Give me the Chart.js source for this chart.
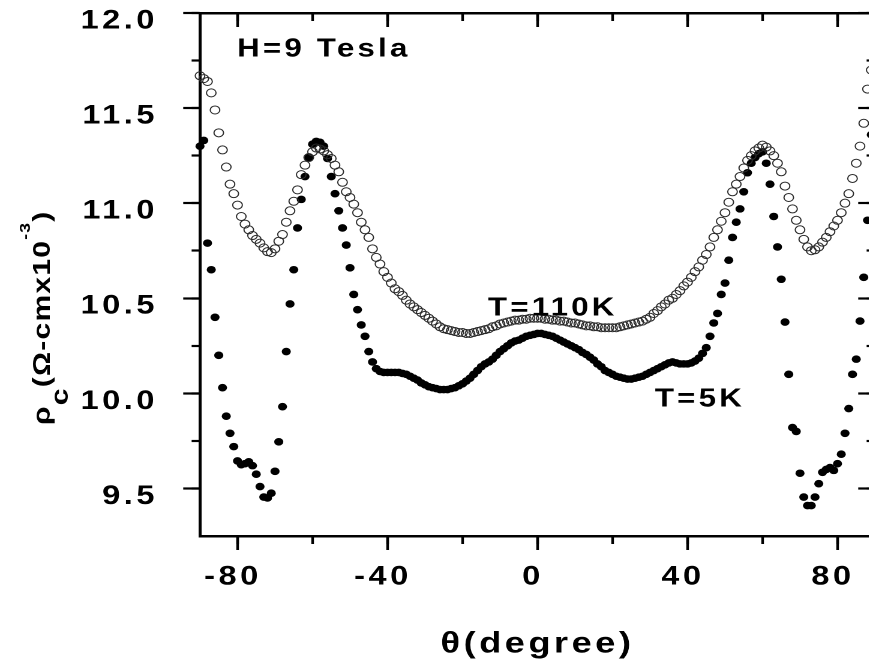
<!DOCTYPE html>
<html>
<head>
<meta charset="utf-8">
<title>rho_c vs theta</title>
<script src="https://cdn.jsdelivr.net/npm/chart.js@4.4.1/dist/chart.umd.min.js"></script>
<style>
  html, body { margin: 0; padding: 0; background: #fff; overflow: hidden; }
  /* the source figure is stretched sideways, so the whole canvas is too */
  #wrap { position: absolute; left: 0; top: 0; width: 735px; height: 664px; transform: scaleX(1.2); transform-origin: 0 0; }
</style>
</head>
<body>
<div id="wrap"><canvas id="chart" width="735" height="664" style="width:735px;height:664px"></canvas></div>
<script>
// measured angles (degree)
const angles = [
  -90, -89, -88, -87, -86, -85, -84, -83, -82, -81,
  -80, -79, -78, -77, -76, -75, -74, -73, -72, -71,
  -70, -69, -68, -67, -66, -65, -64, -63, -62, -61,
  -60, -59, -58, -57, -56, -55, -54, -53, -52, -51,
  -50, -49, -48, -47, -46, -45, -44, -43, -42, -41,
  -40, -39, -38, -37, -36, -35, -34, -33, -32, -31,
  -30, -29, -28, -27, -26, -25, -24, -23, -22, -21,
  -20, -19, -18, -17, -16, -15, -14, -13, -12, -11,
  -10, -9, -8, -7, -6, -5, -4, -3, -2, -1,
  0, 1, 2, 3, 4, 5, 6, 7, 8, 9,
  10, 11, 12, 13, 14, 15, 16, 17, 18, 19,
  20, 21, 22, 23, 24, 25, 26, 27, 28, 29,
  30, 31, 32, 33, 34, 35, 36, 37, 38, 39,
  40, 41, 42, 43, 44, 45, 46, 47, 48, 49,
  50, 51, 52, 53, 54, 55, 56, 57, 58, 59,
  60, 61, 62, 63, 64, 65, 66, 67, 68, 69,
  70, 71, 72, 73, 74, 75, 76, 77, 78, 79,
  80, 81, 82, 83, 84, 85, 86, 87, 88, 89
];

// T = 110 K (open circles), rho_c x10^-3 Ohm-cm
const rho110K = [
  11.67, 11.655, 11.64, 11.58, 11.49, 11.37, 11.28, 11.19, 11.10, 11.05,
  10.99, 10.93, 10.89, 10.86, 10.83, 10.81, 10.79, 10.765, 10.745, 10.74,
  10.76, 10.80, 10.835, 10.90, 10.96, 11.01, 11.07, 11.15, 11.20, 11.24,
  11.27, 11.29, 11.285, 11.275, 11.255, 11.235, 11.20, 11.165, 11.11, 11.06,
  11.03, 10.995, 10.95, 10.90, 10.86, 10.82, 10.76, 10.715, 10.68, 10.64,
  10.61, 10.58, 10.55, 10.535, 10.515, 10.49, 10.47, 10.455, 10.44, 10.425,
  10.41, 10.395, 10.38, 10.365, 10.35, 10.34, 10.335, 10.33, 10.325, 10.32,
  10.32, 10.315, 10.315, 10.32, 10.325, 10.33, 10.335, 10.34, 10.35, 10.355,
  10.365, 10.37, 10.375, 10.38, 10.385, 10.385, 10.39, 10.39, 10.395, 10.395,
  10.395, 10.395, 10.39, 10.39, 10.385, 10.385, 10.38, 10.38, 10.375, 10.37,
  10.37, 10.365, 10.36, 10.355, 10.355, 10.35, 10.35, 10.345, 10.345, 10.345,
  10.345, 10.345, 10.35, 10.355, 10.36, 10.365, 10.37, 10.375, 10.38, 10.39,
  10.40, 10.42, 10.435, 10.455, 10.47, 10.49, 10.50, 10.52, 10.54, 10.565,
  10.585, 10.61, 10.64, 10.665, 10.70, 10.73, 10.77, 10.82, 10.86, 10.905,
  10.95, 11.005, 11.06, 11.10, 11.14, 11.185, 11.225, 11.25, 11.275, 11.29,
  11.305, 11.295, 11.275, 11.25, 11.21, 11.165, 11.09, 11.03, 10.97, 10.91,
  10.86, 10.81, 10.77, 10.75, 10.755, 10.77, 10.795, 10.82, 10.85, 10.88,
  10.91, 10.95, 11.00, 11.05, 11.13, 11.21, 11.30, 11.42, 11.60, 11.70
];

// T = 5 K (filled circles)
const rho5K = [
  11.30, 11.33, 10.79, 10.65, 10.40, 10.20, 10.03, 9.88, 9.79, 9.72,
  9.645, 9.625, 9.63, 9.64, 9.62, 9.575, 9.51, 9.455, 9.45, 9.475,
  9.59, 9.745, 9.93, 10.22, 10.47, 10.65, 10.87, 11.02, 11.14, 11.24,
  11.31, 11.325, 11.32, 11.30, 11.235, 11.14, 11.05, 10.96, 10.87, 10.78,
  10.66, 10.52, 10.44, 10.36, 10.30, 10.22, 10.165, 10.13, 10.115, 10.11,
  10.11, 10.11, 10.11, 10.11, 10.105, 10.10, 10.09, 10.08, 10.07, 10.055,
  10.045, 10.035, 10.03, 10.025, 10.02, 10.02, 10.02, 10.025, 10.03, 10.04,
  10.05, 10.065, 10.08, 10.10, 10.12, 10.14, 10.155, 10.165, 10.18, 10.20,
  10.22, 10.235, 10.25, 10.265, 10.275, 10.28, 10.29, 10.30, 10.305, 10.31,
  10.315, 10.315, 10.31, 10.305, 10.30, 10.29, 10.28, 10.27, 10.26, 10.25,
  10.24, 10.23, 10.215, 10.205, 10.19, 10.175, 10.155, 10.14, 10.12, 10.11,
  10.10, 10.09, 10.085, 10.08, 10.075, 10.075, 10.08, 10.085, 10.09, 10.10,
  10.11, 10.12, 10.13, 10.14, 10.15, 10.16, 10.165, 10.16, 10.155, 10.155,
  10.155, 10.16, 10.17, 10.185, 10.21, 10.24, 10.30, 10.37, 10.42, 10.52,
  10.58, 10.70, 10.82, 10.90, 10.97, 11.06, 11.16, 11.21, 11.24, 11.26,
  11.27, 11.21, 11.10, 10.93, 10.77, 10.60, 10.375, 10.10, 9.82, 9.80,
  9.58, 9.455, 9.41, 9.41, 9.455, 9.525, 9.585, 9.60, 9.61, 9.595,
  9.63, 9.68, 9.79, 9.92, 10.10, 10.18, 10.38, 10.61, 10.91, 11.36
];

const xMajorTicks = [-80, -40, 0, 40, 80];
const xMinorTicks = [-80, -60, -40, -20, 0, 20, 40, 60, 80];
const yMajorTicks = [9.5, 10.0, 10.5, 11.0, 11.5, 12.0];
const yMinorTicks = [9.5, 9.75, 10.0, 10.25, 10.5, 10.75, 11.0, 11.25, 11.5, 11.75, 12.0];

// text written inside the plot, anchored at (theta, rho) of its left baseline
const noteTexts = ["H=9 Tesla", "T=110K", "T=5K"];
const noteAnchors = [[-80.1, 11.77], [-13.2, 10.41], [31.3, 9.93]];

// y title pieces: text, font size, baseline shift (sub/superscript)
const yTitleParts = [
  { text: "ρ", size: 24, dy: 0 },
  { text: "c", size: 24, dy: 18 },
  { text: "(Ω-cmx10", size: 24, dy: 0 },
  { text: "-3", size: 14, dy: -20 },
  { text: ")", size: 24, dy: 0 }
];

const FONT = "'Liberation Sans', Arial, Helvetica, sans-serif";
const W = 735, H = 664;
const STRETCH = 1.2;
const AREA = { left: 200 / STRETCH, right: 875 / STRETCH, top: 13, bottom: 536 };

function fixed(list) {
  return s => { s.ticks = list.map(v => ({ value: v })); };
}
function noPad(size, horizontal) {
  return s => {
    if (horizontal) s.height = size; else s.width = size;
    s.paddingTop = s.paddingBottom = s.paddingLeft = s.paddingRight = 0;
  };
}
// bare tick-only axis (minor ticks, and the inward ticks of the frame)
function tickAxis(position, isX, list, len, withBorder, weight) {
  return {
    type: "linear",
    position,
    weight,
    min: isX ? -90 : 9.25,
    max: isX ? 90 : 12.0,
    afterBuildTicks: fixed(list),
    afterFit: noPad(0, isX),
    grid: { drawOnChartArea: false, drawTicks: true, tickLength: len, tickWidth: 2.2, tickColor: "#000" },
    border: { display: withBorder, color: "#000", width: 2.5 },
    ticks: { display: false }
  };
}

const textPlugin = {
  id: "texts",
  beforeDraw(chart) { chart.ctx.letterSpacing = "3px"; },
  afterDraw(chart) {
    const { ctx } = chart;
    const x = chart.scales.x, y = chart.scales.y;
    ctx.save();
    ctx.fillStyle = "#000";
    ctx.textAlign = "left";
    ctx.textBaseline = "alphabetic";
    ctx.font = "bold 26px " + FONT;
    ctx.letterSpacing = "2.7px";
    noteTexts.forEach((t, i) => {
      ctx.fillText(t, x.getPixelForValue(noteAnchors[i][0]), y.getPixelForValue(noteAnchors[i][1]));
    });

    // rotated y title with subscript / superscript; undo the sideways stretch
    // across the glyphs and widen them along the text like the source font
    ctx.translate(50 / STRETCH, 425);
    ctx.rotate(-Math.PI / 2);
    ctx.scale(1.25, 1 / STRETCH);
    ctx.letterSpacing = "1px";
    let cx = 0;
    yTitleParts.forEach(p => {
      ctx.font = "bold " + p.size + "px " + FONT;
      ctx.fillText(p.text, cx, p.dy);
      cx += ctx.measureText(p.text).width;
    });
    ctx.restore();
  }
};

const ctx = document.getElementById("chart").getContext("2d");
new Chart(ctx, {
  type: "scatter",
  data: {
    datasets: [
      {
        label: "T=110K",
        data: angles.map((a, i) => ({ x: a, y: rho110K[i] })),
        pointStyle: "circle",
        pointRadius: 4,
        pointBackgroundColor: "rgba(0,0,0,0)",
        pointBorderColor: "#2a2a2a",
        pointBorderWidth: 1,
        showLine: false,
        clip: false
      },
      {
        label: "T=5K",
        data: angles.map((a, i) => ({ x: a, y: rho5K[i] })),
        pointStyle: "circle",
        pointRadius: 3.8,
        pointBackgroundColor: "#000",
        pointBorderColor: "#000",
        pointBorderWidth: 0,
        showLine: false,
        clip: false
      }
    ]
  },
  options: {
    responsive: false,
    devicePixelRatio: 2,
    animation: false,
    events: [],
    layout: { padding: { left: 0, top: AREA.top, right: W - AREA.right, bottom: 0 } },
    plugins: { legend: { display: false }, tooltip: { enabled: false } },
    scales: {
      x: {
        type: "linear",
        position: "bottom",
        weight: 0,
        min: -90,
        max: 90,
        afterBuildTicks: fixed(xMajorTicks),
        afterFit: noPad(H - AREA.bottom, true),
        grid: { drawOnChartArea: false, drawTicks: true, tickLength: 14, tickWidth: 2.2, tickColor: "#000" },
        border: { display: true, color: "#000", width: 2.5 },
        ticks: {
          color: "#000",
          font: { family: FONT, size: 27, weight: "bold" },
          padding: 11,
          labelOffset: -3.8,
          autoSkip: false,
          maxRotation: 0,
          callback: v => String(v)
        },
        title: {
          display: true,
          text: "θ(degree)",
          color: "#000",
          font: { family: FONT, size: 30, weight: "bold" },
          padding: { top: 0, bottom: 2 }
        }
      },
      xMinor: tickAxis("bottom", true, xMinorTicks, 8, false, -1),
      xTop: tickAxis("top", true, xMajorTicks, -14, true, 0),
      xTopMinor: tickAxis("top", true, xMinorTicks, -8, false, -1),
      y: {
        type: "linear",
        position: "left",
        weight: 0,
        min: 9.25,
        max: 12.0,
        afterBuildTicks: fixed(yMajorTicks),
        afterFit: noPad(AREA.left, false),
        grid: { drawOnChartArea: false, drawTicks: true, tickLength: 14, tickWidth: 2.2, tickColor: "#000" },
        border: { display: true, color: "#000", width: 2.5 },
        ticks: {
          color: "#000",
          font: { family: FONT, size: 27, weight: "bold" },
          padding: 21,
          labelOffset: 8,
          autoSkip: false,
          callback: v => v.toFixed(1)
        },
        title: { display: false }
      },
      yMinor: tickAxis("left", false, yMinorTicks, 7, false, -1),
      yRight: tickAxis("right", false, yMajorTicks, -14, true, 0),
      yRightMinor: tickAxis("right", false, yMinorTicks, -7, false, -1)
    }
  },
  plugins: [textPlugin]
});
</script>
</body>
</html>
